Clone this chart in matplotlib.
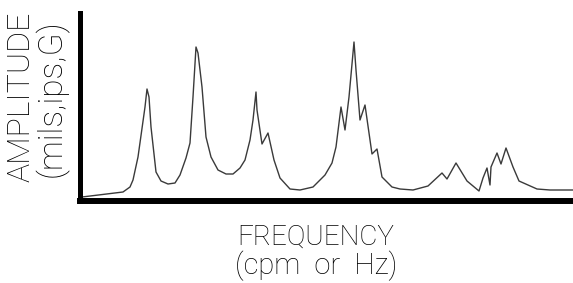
import matplotlib
matplotlib.use('Agg')
import matplotlib.pyplot as plt

# spectrum trace (arbitrary units)
freq = [2, 43, 50, 53, 58, 65, 67, 69, 71, 76, 81, 88, 95, 100, 106, 110, 113, 116, 118, 122,
        126, 131, 138, 146, 153, 160, 165, 170, 173, 176, 177, 182, 188, 194, 200, 210, 220, 233,
        245, 252, 256, 261, 265, 269, 274, 276, 280, 285, 292, 297, 302, 312, 320, 333, 348, 362,
        367, 376, 387, 399, 403, 407, 410, 411, 417, 421, 426, 433, 439, 457, 470, 493]
amp = [4, 9, 14, 21, 44, 94, 112, 104, 74, 29, 20, 17, 18, 26, 43, 58, 104, 154, 148, 114,
       64, 44, 31, 27, 27, 33, 41, 61, 81, 109, 91, 57, 68, 41, 23, 12, 11, 14,
       26, 38, 54, 94, 71, 104, 159, 131, 81, 96, 47, 52, 24, 14, 12, 11, 15, 28,
       22, 38, 20, 10, 23, 33, 16, 34, 48, 37, 53, 34, 20, 12, 11, 11]

xlabel = ['FREQUENCY', '(cpm  or  Hz)']
ylabel = ['AMPLITUDE', '(mils,ips,G)']

W, H = 573, 283
fig = plt.figure(figsize=(W / 100, H / 100), dpi=100)
ax = fig.add_axes([80 / W, 82 / H, 493 / W, 188 / H])
ax.plot(freq, amp, color='#3a3a3a', lw=1.0, clip_on=False)
ax.set_xlim(0, 493)
ax.set_ylim(0, 188)
ax.set_xticks([])
ax.set_yticks([])
ax.spines['top'].set_visible(False)
ax.spines['right'].set_visible(False)
ax.spines['left'].set_linewidth(3.6)
ax.spines['bottom'].set_linewidth(4.3)

lbl = dict(family='Roboto', weight='light', ha='center', va='center')
fig.text(316 / W, 1 - 237 / H, xlabel[0], fontsize=20, **lbl)
fig.text(316 / W, 1 - 266 / H, xlabel[1], fontsize=21, **lbl)
fig.text(21 / W, 1 - 97 / H, ylabel[0], rotation=90, fontsize=23, **lbl)
fig.text(52 / W, 1 - 98 / H, ylabel[1], rotation=90, fontsize=24, **lbl)

fig.savefig('out.png', dpi=100)
